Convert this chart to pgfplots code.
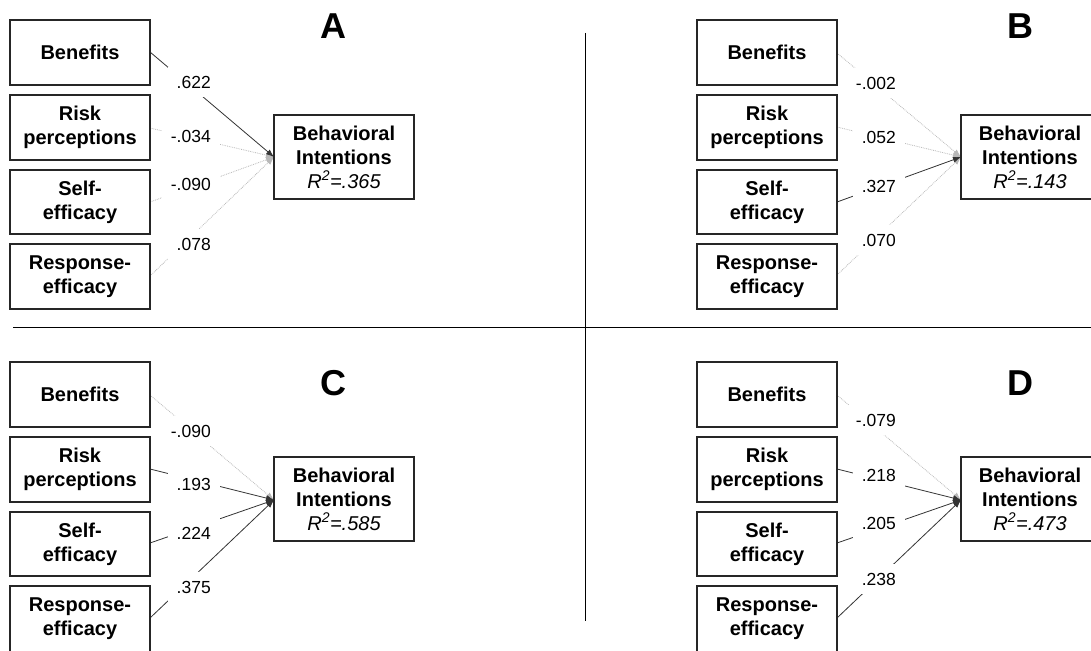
\documentclass[border=0pt]{standalone}
\usepackage{fontspec}
\setmainfont{Liberation Sans}
\usepackage{pgfplots}
\pgfplotsset{compat=1.18}
\usetikzlibrary{arrows.meta}

\tikzset{
 boxst/.style={line width=1.2pt, draw=black!85},
 boxtxt/.style={font=\fontsize{20}{24}\selectfont\bfseries, align=center, inner sep=0pt},
 coef/.style={font=\fontsize{17.5}{20}\selectfont, fill=white, inner xsep=9pt, inner ysep=9pt, anchor=east},
 sig/.style={draw=black!80, line width=0.8pt, -{Latex[length=8pt,width=6pt]}},
 ns/.style={draw=black!28, line width=0.8pt, densely dotted, -{Latex[length=8pt,width=6pt]}},
 ttl/.style={font=\fontsize{36}{36}\selectfont\bfseries},
}
\newcommand{\BI}[1]{Behavioral\\Intentions\\{\normalfont\itshape R\textsuperscript{2}=#1}}

\begin{document}
\begin{tikzpicture}
\begin{axis}[
  at={(0,0)}, anchor=south west,
  width=1091pt, height=650pt, scale only axis,
  xmin=0, xmax=1091, ymin=0, ymax=650, y dir=reverse,
  hide axis, clip=true]

% dividers
\addplot[black, line width=1pt] coordinates {(585,33) (585,621)};
\addplot[black, line width=1pt] coordinates {(13,327) (1091,327)};

% ---------- Panel A ----------
\addplot[ns] coordinates {(150,128) (274,157)};
\addplot[ns] coordinates {(150,202) (274,157)};
\addplot[ns] coordinates {(150,276) (274,157)};
\addplot[sig] coordinates {(150,52) (274,157)};
% ---------- Panel B ----------
\addplot[ns] coordinates {(837,53) (961,157)};
\addplot[ns] coordinates {(837,127) (961,157)};
\addplot[ns] coordinates {(837,275) (961,157)};
\addplot[sig] coordinates {(837,202) (961,157)};
% ---------- Panel C ----------
\addplot[ns] coordinates {(150,395) (274,500)};
\addplot[sig] coordinates {(150,469) (274,500)};
\addplot[sig] coordinates {(150,543) (274,500)};
\addplot[sig] coordinates {(150,618) (274,500)};
% ---------- Panel D ----------
\addplot[ns] coordinates {(837,395) (961,500)};
\addplot[sig] coordinates {(837,469) (961,500)};
\addplot[sig] coordinates {(837,543) (961,500)};
\addplot[sig] coordinates {(837,618) (961,500)};

% boxes A
\draw[boxst] (axis cs:10,20) rectangle (axis cs:150,85);
\draw[boxst] (axis cs:10,95) rectangle (axis cs:150,160);
\draw[boxst] (axis cs:10,170) rectangle (axis cs:150,234);
\draw[boxst] (axis cs:10,244) rectangle (axis cs:150,309);
\draw[boxst] (axis cs:274,115) rectangle (axis cs:414,199);
\node[boxtxt] at (axis cs:80,52.5) {Benefits};
\node[boxtxt] at (axis cs:80,127.5) {Risk\\perceptions};
\node[boxtxt] at (axis cs:80,202) {Self-\\efficacy};
\node[boxtxt] at (axis cs:80,276.5) {Response-\\efficacy};
\node[boxtxt] at (axis cs:344,157) {\BI{.365}};
\node[ttl] at (axis cs:333,26) {A};
% boxes B
\draw[boxst] (axis cs:697,20) rectangle (axis cs:837,85);
\draw[boxst] (axis cs:697,95) rectangle (axis cs:837,160);
\draw[boxst] (axis cs:697,170) rectangle (axis cs:837,234);
\draw[boxst] (axis cs:697,244) rectangle (axis cs:837,309);
\draw[boxst] (axis cs:961,115) rectangle (axis cs:1101,199);
\node[boxtxt] at (axis cs:767,52.5) {Benefits};
\node[boxtxt] at (axis cs:767,127.5) {Risk\\perceptions};
\node[boxtxt] at (axis cs:767,202) {Self-\\efficacy};
\node[boxtxt] at (axis cs:767,276.5) {Response-\\efficacy};
\node[boxtxt] at (axis cs:1030,157) {\BI{.143}};
\node[ttl] at (axis cs:1020,26) {B};
% boxes C
\draw[boxst] (axis cs:10,362) rectangle (axis cs:150,427);
\draw[boxst] (axis cs:10,437) rectangle (axis cs:150,502);
\draw[boxst] (axis cs:10,512) rectangle (axis cs:150,576);
\draw[boxst] (axis cs:10,586) rectangle (axis cs:150,662);
\draw[boxst] (axis cs:274,457) rectangle (axis cs:414,541);
\node[boxtxt] at (axis cs:80,394.5) {Benefits};
\node[boxtxt] at (axis cs:80,469.5) {Risk\\perceptions};
\node[boxtxt] at (axis cs:80,544) {Self-\\efficacy};
\node[boxtxt] at (axis cs:80,618.5) {Response-\\efficacy};
\node[boxtxt] at (axis cs:344,499) {\BI{.585}};
\node[ttl] at (axis cs:333,383) {C};
% boxes D
\draw[boxst] (axis cs:697,362) rectangle (axis cs:837,427);
\draw[boxst] (axis cs:697,437) rectangle (axis cs:837,502);
\draw[boxst] (axis cs:697,512) rectangle (axis cs:837,576);
\draw[boxst] (axis cs:697,586) rectangle (axis cs:837,662);
\draw[boxst] (axis cs:961,457) rectangle (axis cs:1101,541);
\node[boxtxt] at (axis cs:767,394.5) {Benefits};
\node[boxtxt] at (axis cs:767,469.5) {Risk\\perceptions};
\node[boxtxt] at (axis cs:767,544) {Self-\\efficacy};
\node[boxtxt] at (axis cs:767,618.5) {Response-\\efficacy};
\node[boxtxt] at (axis cs:1030,499) {\BI{.473}};
\node[ttl] at (axis cs:1020,383) {D};

% coefficients
\node[coef] at (axis cs:220,82) {.622};
\node[coef] at (axis cs:220,136) {-.034};
\node[coef] at (axis cs:220,184) {-.090};
\node[coef] at (axis cs:220,244) {.078};
\node[coef] at (axis cs:905,83) {-.002};
\node[coef] at (axis cs:905,137) {.052};
\node[coef] at (axis cs:905,186) {.327};
\node[coef] at (axis cs:905,240) {.070};
\node[coef] at (axis cs:220,431) {-.090};
\node[coef] at (axis cs:220,484) {.193};
\node[coef] at (axis cs:220,533) {.224};
\node[coef] at (axis cs:220,587) {.375};
\node[coef] at (axis cs:905,420) {-.079};
\node[coef] at (axis cs:905,475) {.218};
\node[coef] at (axis cs:905,523) {.205};
\node[coef] at (axis cs:905,579) {.238};
\end{axis}
\pgfresetboundingbox
\useasboundingbox (0,0) rectangle (1091pt,650pt);
\end{tikzpicture}
\end{document}
